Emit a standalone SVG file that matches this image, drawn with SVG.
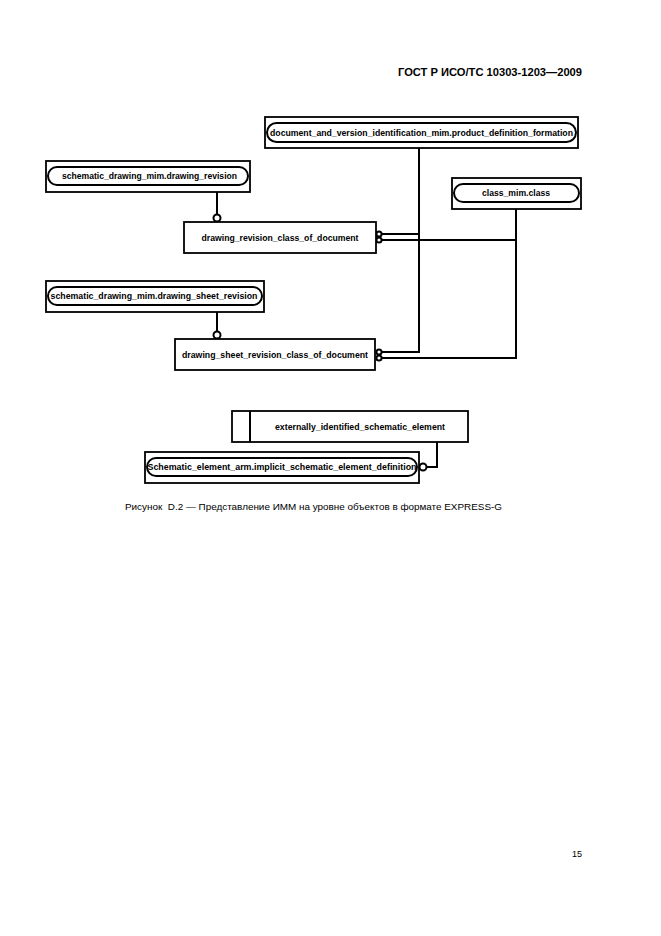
<svg xmlns="http://www.w3.org/2000/svg" width="661" height="936" viewBox="0 0 661 936">
<style>
.box{fill:#fff;stroke:#000;stroke-width:1.8}
.pill{fill:none;stroke:#000;stroke-width:2}
.t{font-family:"Liberation Sans",Arial,sans-serif;font-size:8.5px;font-weight:bold;text-anchor:middle;fill:#000}
.ln{fill:none;stroke:#000;stroke-width:2}
.ci{fill:#fff;stroke:#000;stroke-width:2}
.hdr{font-family:"Liberation Sans",Arial,sans-serif;font-size:11px;font-weight:bold;fill:#000}
.cap{font-family:"Liberation Sans",Arial,sans-serif;font-size:9px;fill:#000}
</style>
<rect width="661" height="936" fill="#fff"/>
<text class="hdr" x="582" y="76" text-anchor="end" textLength="184" lengthAdjust="spacingAndGlyphs">ГОСТ Р ИСО/ТС 10303-1203—2009</text>

<g id="connectors">
<line class="ln" x1="217" y1="192" x2="217" y2="214"/>
<circle class="ci" cx="217" cy="218" r="3.5"/>
<line class="ln" x1="217" y1="312" x2="217" y2="331"/>
<circle class="ci" cx="217" cy="335" r="3.5"/>
<polyline class="ln" points="419,148 419,352 382,352"/>
<line class="ln" x1="382" y1="234" x2="419" y2="234"/>
<polyline class="ln" points="516,209 516,358 382,358"/>
<line class="ln" x1="382" y1="240" x2="516" y2="240"/>
<circle class="ci" cx="379" cy="234" r="2.6"/>
<circle class="ci" cx="379" cy="240" r="2.6"/>
<circle class="ci" cx="379" cy="352" r="2.6"/>
<circle class="ci" cx="379" cy="358" r="2.6"/>
<polyline class="ln" points="427,467 437,467 437,442"/>
<circle class="ci" cx="423" cy="467" r="3.5"/>
</g>

<g id="node-dvim">
<rect class="box" x="265" y="117" width="313" height="31"/>
<rect class="pill" x="267" y="123" width="309" height="19" rx="9.5"/>
<text class="t" x="421.5" y="135.5" textLength="303" lengthAdjust="spacingAndGlyphs">document_and_version_identification_mim.product_definition_formation</text>
</g>

<g id="node-sdm-rev">
<rect class="box" x="46" y="161" width="204" height="31"/>
<rect class="pill" x="48" y="167" width="200" height="18" rx="9"/>
<text class="t" x="149.5" y="179" textLength="175" lengthAdjust="spacingAndGlyphs">schematic_drawing_mim.drawing_revision</text>
</g>

<g id="node-drcod">
<rect class="box" x="184" y="222" width="192" height="31"/>
<text class="t" x="280" y="240.5" textLength="157" lengthAdjust="spacingAndGlyphs">drawing_revision_class_of_document</text>
</g>

<g id="node-class">
<rect class="box" x="452" y="178" width="129" height="31"/>
<rect class="pill" x="454" y="184" width="125" height="18" rx="9"/>
<text class="t" x="516" y="196" textLength="68" lengthAdjust="spacingAndGlyphs">class_mim.class</text>
</g>

<g id="node-sdm-sheet">
<rect class="box" x="46" y="281" width="218" height="31"/>
<rect class="pill" x="48" y="287" width="214" height="18" rx="9"/>
<text class="t" x="154" y="299" textLength="207" lengthAdjust="spacingAndGlyphs">schematic_drawing_mim.drawing_sheet_revision</text>
</g>

<g id="node-dsrcod">
<rect class="box" x="175" y="339" width="200" height="31"/>
<text class="t" x="275" y="357.5" textLength="186" lengthAdjust="spacingAndGlyphs">drawing_sheet_revision_class_of_document</text>
</g>

<g id="node-eise">
<rect class="box" x="232" y="411" width="236" height="31"/>
<line class="ln" x1="250" y1="411" x2="250" y2="442"/>
<text class="t" x="360" y="429.5" textLength="170" lengthAdjust="spacingAndGlyphs">externally_identified_schematic_element</text>
</g>

<g id="node-iseed">
<rect class="box" x="145" y="452" width="274" height="31"/>
<rect class="pill" x="147" y="458" width="270" height="18" rx="9"/>
<text class="t" x="282" y="470" textLength="269" lengthAdjust="spacingAndGlyphs">Schematic_element_arm.implicit_schematic_element_definition</text>
</g>

<text class="cap" x="125" y="510" textLength="377" lengthAdjust="spacingAndGlyphs">Рисунок&#160; D.2 — Представление ИММ на уровне объектов в формате EXPRESS-G</text>
<text class="cap" x="572" y="857" font-size="10">15</text>
</svg>
